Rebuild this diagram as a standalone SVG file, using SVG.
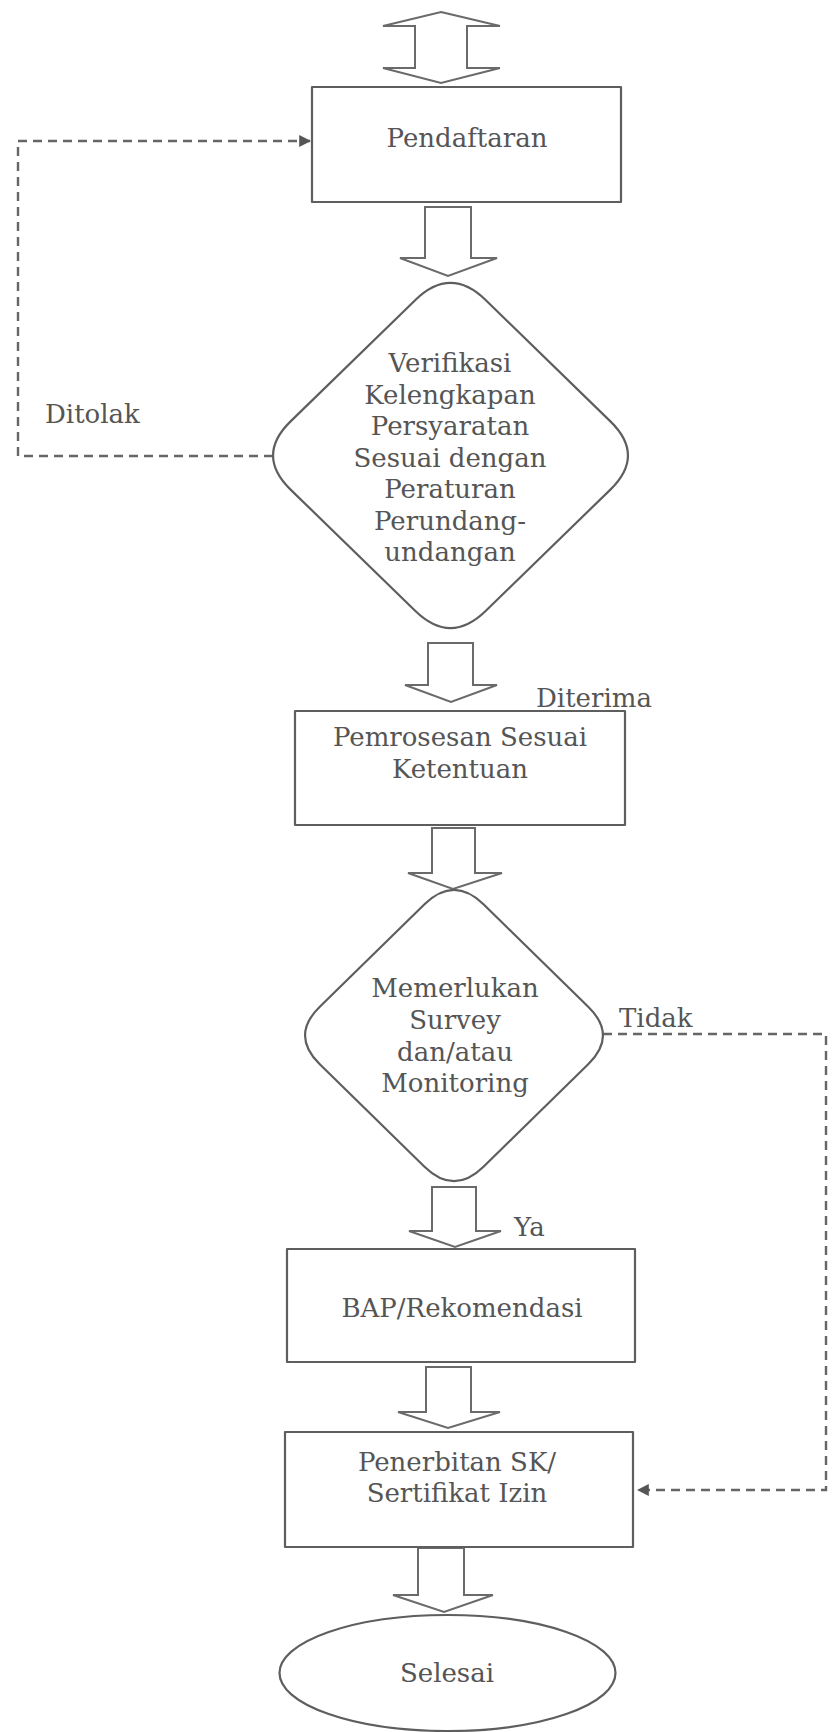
<svg xmlns="http://www.w3.org/2000/svg" width="833" height="1732" viewBox="0 0 833 1732">
<defs>
<style>
.shape{fill:#fff;stroke:#5e5e5e;stroke-width:2.2;stroke-linejoin:round}
.blk{fill:#fff;stroke:#6a6a6a;stroke-width:2;stroke-linejoin:miter}
.dash{fill:none;stroke:#666;stroke-width:2.4;stroke-dasharray:9 6}
.t{font-family:"DejaVu Serif","Liberation Serif",serif;font-size:26px;fill:#555;text-anchor:middle}
.l{font-family:"DejaVu Serif","Liberation Serif",serif;font-size:26px;fill:#555}
</style>
<marker id="ah" viewBox="0 0 10 10" refX="9" refY="5" markerWidth="5" markerHeight="5" orient="auto" markerUnits="strokeWidth">
<path d="M0,0 L10,5 L0,10 Z" fill="#555"/>
</marker>
</defs>
<rect width="833" height="1732" fill="#fff"/>

<g id="connectors">
<path class="blk" d="M441,12 L500,26 L467,26 L467,68 L500,68 L441,83 L383,68 L415,68 L415,26 L383,26 Z"/>
<path class="blk" d="M425,207 L471,207 L471,258 L497,258 L448,276 L400,258 L425,258 Z"/>
<path class="blk" d="M428,643 L473,643 L473,685 L497,685 L451,702 L405,685 L428,685 Z"/>
<path class="blk" d="M432,828 L475,828 L475,873 L502,873 L453,889 L408,873 L432,873 Z"/>
<path class="blk" d="M432,1187 L476,1187 L476,1231 L501,1231 L455,1247 L409,1231 L432,1231 Z"/>
<path class="blk" d="M426,1367 L471,1367 L471,1412 L500,1412 L448,1428 L398,1412 L426,1412 Z"/>
<path class="blk" d="M418,1548 L464,1548 L464,1595 L493,1595 L444,1612 L393,1595 L418,1595 Z"/>
<path class="dash" d="M273,456 L18,456 L18,141 L310,141" marker-end="url(#ah)"/>
<path class="dash" d="M603,1034 L826,1034 L826,1490 L638,1490" marker-end="url(#ah)"/>
<text class="l" x="45" y="423">Ditolak</text>
<text class="l" x="536" y="707">Diterima</text>
<text class="l" x="619" y="1027">Tidak</text>
<text class="l" x="514" y="1236">Ya</text>
</g>

<g id="pendaftaran">
<rect class="shape" x="312" y="87" width="309" height="115"/>
<text class="t" x="467" y="147">Pendaftaran</text>
</g>

<g id="verifikasi">
<path class="shape" d="M415.4,300 Q450.5,265.9 485.6,300 L610.4,421.4 Q645.5,455.5 610.4,489.6 L485.6,611 Q450.5,645.1 415.4,611 L290.6,489.6 Q255.5,455.5 290.6,421.4 Z"/>
<text class="t" x="450" y="372">Verifikasi</text>
<text class="t" x="450" y="403.5">Kelengkapan</text>
<text class="t" x="450" y="435">Persyaratan</text>
<text class="t" x="450" y="466.5">Sesuai dengan</text>
<text class="t" x="450" y="498">Peraturan</text>
<text class="t" x="450" y="529.5">Perundang-</text>
<text class="t" x="450" y="561">undangan</text>
</g>

<g id="pemrosesan">
<rect class="shape" x="295" y="711" width="330" height="114"/>
<text class="t" x="460" y="746">Pemrosesan Sesuai</text>
<text class="t" x="460" y="778">Ketentuan</text>
</g>

<g id="memerlukan">
<path class="shape" d="M424.5,904.3 Q454,875.5 483.5,904.3 L588.2,1006.7 Q617.7,1035.5 588.2,1064.3 L483.5,1166.7 Q454,1195.5 424.5,1166.7 L319.8,1064.3 Q290.3,1035.5 319.8,1006.7 Z"/>
<text class="t" x="455" y="997">Memerlukan</text>
<text class="t" x="455" y="1029">Survey</text>
<text class="t" x="455" y="1061">dan/atau</text>
<text class="t" x="455" y="1092">Monitoring</text>
</g>

<g id="bap">
<rect class="shape" x="287" y="1249" width="348" height="113"/>
<text class="t" x="462" y="1317">BAP/Rekomendasi</text>
</g>

<g id="penerbitan">
<rect class="shape" x="285" y="1432" width="348" height="115"/>
<text class="t" x="457" y="1471">Penerbitan SK/</text>
<text class="t" x="457" y="1502">Sertifikat Izin</text>
</g>

<g id="selesai">
<ellipse class="shape" cx="447.5" cy="1673" rx="168" ry="58"/>
<text class="t" x="447" y="1682">Selesai</text>
</g>
</svg>
